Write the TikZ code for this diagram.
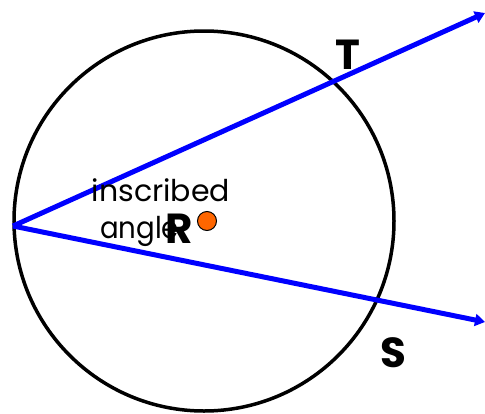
\documentclass[tikz,border=0pt]{standalone}
\usepackage{fontspec}
\setmainfont{Poppins}
\usetikzlibrary{arrows.meta}
\definecolor{rayblue}{RGB}{0,0,255}
\definecolor{dotorange}{RGB}{255,102,0}
\tikzset{
  ray/.style={draw=rayblue, line width=5pt, -{Triangle[length=10pt,width=12pt]}},
  circ/.style={draw=black, line width=3.5pt},
  ptlabel/.style={font=\fontsize{42}{46}\selectfont\bfseries, inner sep=0pt},
  txt/.style={font=\fontsize{30}{34}\selectfont, inner sep=0pt}
}
\begin{document}
\begin{tikzpicture}[x=1pt,y=-1pt]
\useasboundingbox (0,0) rectangle (485,413);
\coordinate (O) at (204,221);
\draw[circ] (O) circle[radius=190];
\coordinate (V) at (13,226);
\coordinate (A) at (485,13);
\coordinate (B) at (485,322);
\draw[ray] (V) -- (A);
\draw[ray] (V) -- (B);
\node[txt] (ins) at (161,190) {inscribed};
\node[txt, anchor=west, xscale=0.92] (ang) at (100,231) {angle};
\node[ptlabel] (R) at (179,229) {R};
\node[circle, draw=black, line width=1pt, fill=dotorange, minimum size=19pt, inner sep=0pt] (dot) at (207,221) {};
\node[ptlabel] (T) at (348,55) {T};
\node[ptlabel] (S) at (393,353) {S};
\end{tikzpicture}
\end{document}
